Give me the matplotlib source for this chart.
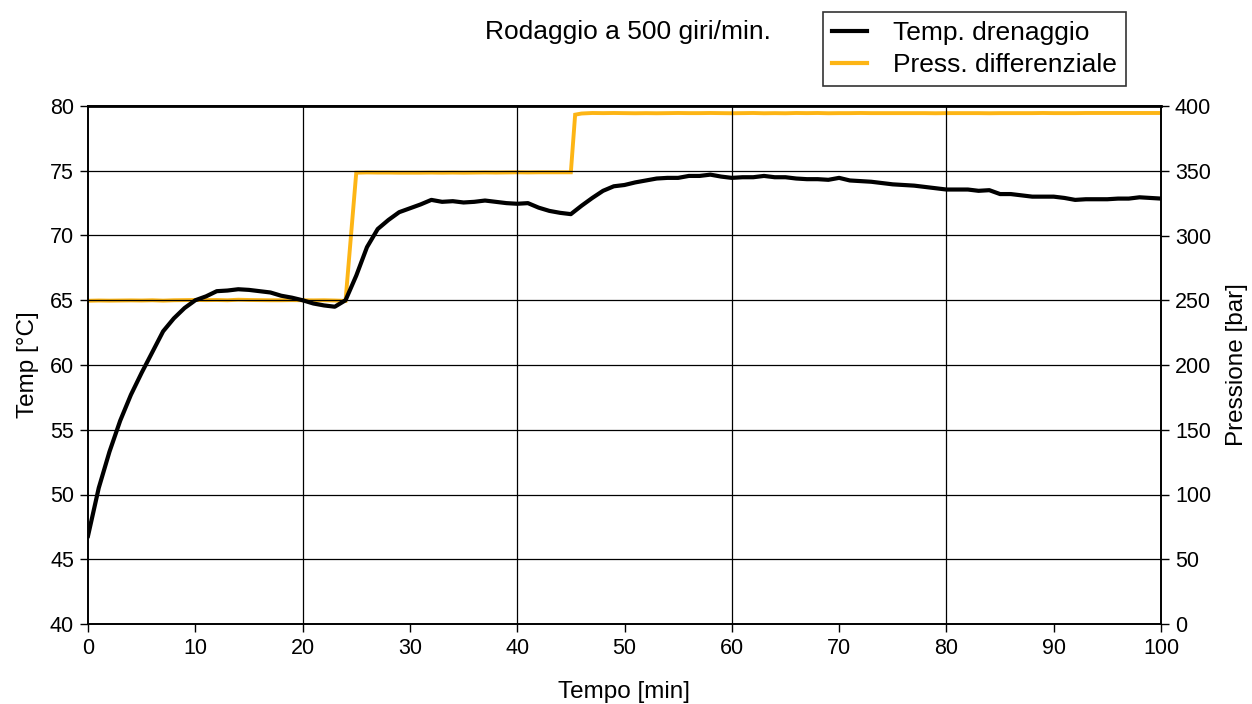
import matplotlib
matplotlib.use("Agg")
import matplotlib.pyplot as plt
from matplotlib.lines import Line2D

plt.rcParams['font.family'] = ['Liberation Sans', 'DejaVu Sans']

# temperatura drenaggio, un campione al minuto
tempo = list(range(0, 101))
temp_drenaggio = [
    46.8, 50.5, 53.3, 55.7, 57.7, 59.4, 61.0, 62.6, 63.6, 64.4,
    65.0, 65.3, 65.7, 65.75, 65.85, 65.8, 65.7, 65.6, 65.35, 65.2,
    65.0, 64.75, 64.6, 64.5, 65.0, 66.9, 69.1, 70.5, 71.2, 71.8,
    72.1, 72.4, 72.75, 72.6, 72.65, 72.55, 72.6, 72.7, 72.6, 72.5,
    72.45, 72.5, 72.15, 71.9, 71.75, 71.65, 72.3, 72.9, 73.45, 73.8,
    73.9, 74.1, 74.25, 74.4, 74.45, 74.45, 74.6, 74.6, 74.7, 74.55,
    74.45, 74.5, 74.5, 74.6, 74.5, 74.5, 74.4, 74.35, 74.35, 74.3,
    74.45, 74.25, 74.2, 74.15, 74.05, 73.95, 73.9, 73.85, 73.75, 73.65,
    73.55, 73.55, 73.55, 73.45, 73.5, 73.2, 73.2, 73.1, 73.0, 73.0,
    73.0, 72.9, 72.75, 72.8, 72.8, 72.8, 72.85, 72.85, 72.95, 72.9,
    72.85,
]

# pressione differenziale
tempo_p = sorted(list(range(0, 46)) + [45.4] + list(range(46, 101)))
press_diff = (
    [249.6, 249.8, 249.7, 249.8, 249.9, 249.8, 250.0, 249.7, 250.0, 250.1,
     250.2, 250.1, 250.2, 250.0, 250.4, 250.2, 250.1, 250.0, 250.0, 250.1,
     250.0, 249.9, 250.0, 249.8, 249.5]
    + [348.5, 348.7, 348.6, 348.6, 348.5, 348.5, 348.5, 348.6, 348.5, 348.6,
       348.5, 348.6, 348.7, 348.6, 348.7, 348.8, 348.7, 348.8, 348.8, 348.8,
       348.8]
    + [393.3, 394.2]
    + [394.6, 394.5, 394.6, 394.5, 394.4, 394.5, 394.4, 394.5, 394.6, 394.5,
       394.5, 394.6, 394.5, 394.4, 394.5, 394.6, 394.4, 394.5, 394.4, 394.6,
       394.5, 394.6, 394.4, 394.5, 394.5, 394.6, 394.5, 394.5, 394.5, 394.5,
       394.5, 394.5, 394.4, 394.5, 394.5, 394.5, 394.5, 394.4, 394.5, 394.5,
       394.5, 394.5, 394.6, 394.5, 394.5, 394.5, 394.6, 394.6, 394.6, 394.6,
       394.6, 394.6, 394.6, 394.6]
)

GIALLO = '#FDB515'

fig = plt.figure(figsize=(12.52, 7.04), dpi=100)
ax = fig.add_axes([88 / 1252, 80 / 704, 1073 / 1252, 518 / 704])
ax2 = ax.twinx()

ax2.plot(tempo_p, press_diff, color=GIALLO, lw=2.8, solid_joinstyle='miter')
ax.plot(tempo, temp_drenaggio, color='black', lw=3.0)
ax.set_zorder(ax2.get_zorder() + 1)
ax.patch.set_visible(False)

ax.set_xlim(0, 100)
ax.set_ylim(40, 80)
ax2.set_ylim(0, 400)
ax.set_xticks(range(0, 101, 10))
ax.set_yticks(range(40, 81, 5))
ax2.set_yticks(range(0, 401, 50))

for v in range(20, 100, 20):
    ax.axvline(v, color='black', lw=0.9, zorder=0)
for v in range(45, 80, 5):
    ax.axhline(v, color='black', lw=0.9, zorder=0)

for a in (ax, ax2):
    a.tick_params(labelsize=15.5, length=6, width=1, direction='out', pad=4)
    for s in a.spines.values():
        s.set_linewidth(1.2)
ax.spines['top'].set_linewidth(2)

ax.set_xlabel('Tempo [min]', fontsize=17.5, labelpad=16)
ax.set_ylabel('Temp [°C]', fontsize=17.5, labelpad=8)
ax2.set_ylabel('Pressione [bar]', fontsize=17.5, labelpad=11)

fig.text(485 / 1252, 1 - 32 / 704, 'Rodaggio a 500 giri/min.', fontsize=19,
         ha='left', va='center')

handles = [Line2D([], [], color='black', lw=3),
           Line2D([], [], color=GIALLO, lw=3)]
leg = fig.legend(handles, ['Temp. drenaggio', 'Press. differenziale'],
                 loc='upper left', bbox_to_anchor=(823 / 1252, 1 - 12 / 704),
                 fontsize=19, frameon=True, fancybox=False, handlelength=1.3,
                 handletextpad=1.0, borderpad=0.35, labelspacing=0.3,
                 borderaxespad=0)
leg.get_frame().set_edgecolor('black')
leg.get_frame().set_linewidth(1.2)

fig.savefig('out.png', dpi=100)
